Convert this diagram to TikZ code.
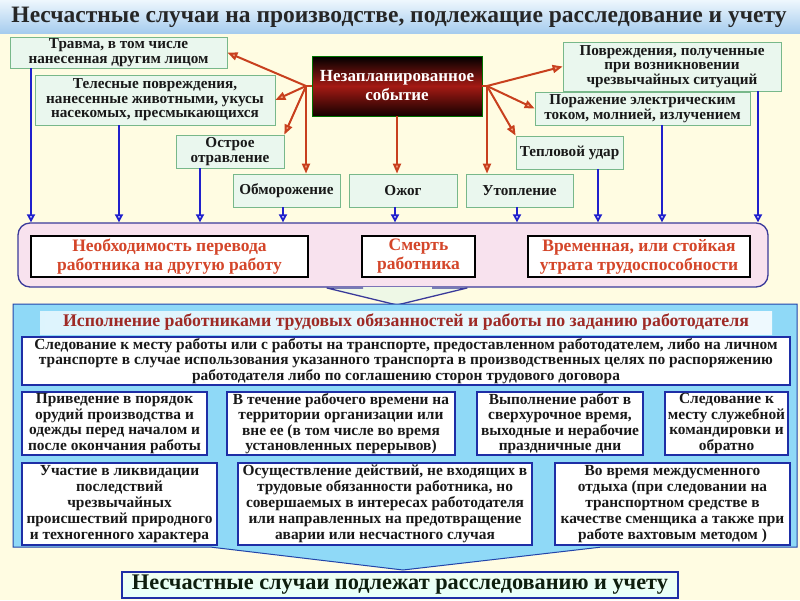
\documentclass[tikz,border=0pt]{standalone}
\usepackage{fontspec}
\setmainfont{Liberation Serif}
\usetikzlibrary{arrows.meta}
\definecolor{bgcol}{HTML}{FFFCE2}
\definecolor{titletop}{HTML}{EEF7FD}
\definecolor{titlebot}{HTML}{A6CCEE}
\definecolor{mint}{HTML}{EAF7EE}
\definecolor{mintedge}{HTML}{78B88A}
\definecolor{redln}{HTML}{C8401E}
\definecolor{redtip}{HTML}{F6A98A}
\definecolor{blueln}{HTML}{2020CC}
\definecolor{pinkfill}{HTML}{F8E2EE}
\definecolor{pinkedge}{HTML}{3A3A9A}
\definecolor{redtxt}{HTML}{D4462A}
\definecolor{skyfill}{HTML}{8FD9F7}
\definecolor{skyedge}{HTML}{2244AA}
\definecolor{boxedge}{HTML}{1E2EA6}
\definecolor{striptxt}{HTML}{9E2A26}
\definecolor{evred}{HTML}{A41A14}
\definecolor{bottxt}{HTML}{0E1E0E}
\definecolor{trifill}{HTML}{EEF8E6}
\tikzset{
  topbox/.style={draw=mintedge, fill=mint, line width=0.8pt, align=center, inner sep=0.5pt,
    text=black!90, font=\bfseries\fontsize{15.2}{14.6}\selectfont},
  redarr/.style={draw=redln, line width=2pt, -{Triangle[length=10pt,width=8pt,fill=redtip]}},
  bluearr/.style={draw=blueln, line width=1.8pt, -{Triangle[length=8pt,width=8pt,fill=blue!12]}},
  outbox/.style={draw=black, fill=white, line width=1.8pt, align=center, inner sep=0.5pt,
    text=redtxt, font=\bfseries\fontsize{17.5}{19}\selectfont},
  wbox/.style={draw=boxedge, fill=white, line width=1.8pt, align=center, inner sep=0pt,
    text=black!90, font=\bfseries\fontsize{15.4}{15.5}\selectfont},
}
\begin{document}
\begin{tikzpicture}[x=1pt,y=-1pt]
\useasboundingbox (0,0) rectangle (800,600);
\fill[bgcol] (0,0) rectangle (800,600);
\shade[top color=titletop, bottom color=titlebot] (0,0) rectangle (800,33);
\node[font=\bfseries\fontsize{23.5}{24}\selectfont, text=black!85, inner sep=0pt] (title) at (399,17)
  {Несчастные случаи на производстве, подлежащие расследование и учету};

% top boxes
\node[topbox, minimum width=217, minimum height=31] (travma) at (118.5,52.5) {Травма, в том числе\\нанесенная другим лицом};
\node[topbox, minimum width=240, minimum height=50] (teles) at (155,100) {Телесные повреждения,\\нанесенные животными, укусы\\насекомых, пресмыкающихся};
\node[topbox, minimum width=108, minimum height=33] (ostr) at (230,151.5) {Острое\\отравление};
\node[topbox, minimum width=107, minimum height=33] (obm) at (286.5,190.5) {Обморожение};
\node[topbox, minimum width=108, minimum height=33] (ozhog) at (403,190.5) {Ожог};
\node[topbox, minimum width=107, minimum height=33] (utop) at (519.5,190.5) {Утопление};
\node[topbox, minimum width=107, minimum height=33] (tepl) at (569.5,152.5) {Тепловой удар};
\node[topbox, minimum width=215, minimum height=33] (poraz) at (642.5,108.5) {Поражение электрическим\\током, молнией, излучением};
\node[topbox, minimum width=218, minimum height=49] (povr) at (672,66.5) {Повреждения, полученные\\при возникновении\\чрезвычайных ситуаций};

% event
\node[draw=green!45!black, line width=0.6pt, top color=black, bottom color=black!92!red, middle color=evred,
  minimum width=170, minimum height=60, text=white, align=center, inner sep=1pt,
  font=\bfseries\fontsize{17}{19}\selectfont] (event) at (397,86) {Незапланированное\\событие};

\coordinate (lc) at (306,86);
\coordinate (rc) at (487,86);
\draw[redln, line width=2pt] (event.west) -- (lc);
\draw[redln, line width=2pt] (event.east) -- (rc);
\draw[redarr] (lc) -- (travma.east);
\draw[redarr] (lc) -- (teles.east);
\draw[redarr] (lc) -- (ostr.north east);
\draw[redarr] (lc) -- (lc |- obm.north);
\draw[redarr] (event.south) -- (event.south |- ozhog.north);
\draw[redarr] (rc) -- (povr.west);
\draw[redarr] (rc) -- (poraz.west);
\draw[redarr] (rc) -- (tepl.north west);
\draw[redarr] (rc) -- (rc |- utop.north);

% pink consequences box
\node[draw=pinkedge, fill=pinkfill, line width=1.3pt, rounded corners=12pt,
  minimum width=750, minimum height=64] (pink) at (393,255) {};
\node[outbox, minimum width=277, minimum height=41] (perevod) at (169.5,256.5) {Необходимость перевода\\работника на другую работу};
\node[outbox, minimum width=113, minimum height=41] (smert) at (418.5,256.5) {Смерть\\работника};
\node[outbox, minimum width=222, minimum height=41] (utrata) at (639,256.5) {Временная, или стойкая\\утрата трудоспособности};

\foreach \n/\x in {travma/31, teles/119, ostr/200, obm/283, ozhog/395, utop/517, tepl/598, poraz/662, povr/758} {
  \coordinate (c\n) at (\x,0);
  \draw[bluearr] (\n.south -| c\n) -- (pink.north -| c\n);
}

% connector triangle
\fill[trifill] (327,287) -- (397,305) -- (467,287) -- cycle;
\draw[pinkedge, line width=1.3pt, line join=round] (363,288) -- (327,288) -- (397,305) -- (467,288) -- (432,288);

% cyan panel with arrow
\filldraw[fill=skyfill, draw=skyedge, line width=1pt] (13,304) -- (797,304) -- (797,547) -- (602,547)
  -- (403,570) -- (210,547) -- (13,547) -- cycle;
\node[left color=white!70!skyfill, middle color=white, right color=white!85!skyfill,
  minimum width=732, minimum height=23, inner sep=0pt, text=striptxt,
  font=\bfseries\fontsize{17.8}{18}\selectfont] (strip) at (406,322.5)
  {Исполнение работниками трудовых обязанностей и работы по заданию работодателя};

\node[wbox, minimum width=768, minimum height=48] (r1) at (406,361)
  {Следование к месту работы или с работы на транспорте, предоставленном работодателем, либо на личном\\транспорте в случае использования указанного транспорта в производственных целях по распоряжению\\работодателя либо по соглашению сторон трудового договора};
\node[wbox, minimum width=185, minimum height=63] (r2a) at (114.5,423.5)
  {Приведение в порядок\\орудий производства и\\одежды перед началом и\\после окончания работы};
\node[wbox, minimum width=228, minimum height=63] (r2b) at (341,423.5)
  {В течение рабочего времени на\\территории организации или\\вне ее (в том числе во время\\установленных перерывов)};
\node[wbox, minimum width=166, minimum height=63] (r2c) at (560,423.5)
  {Выполнение работ в\\сверхурочное время,\\выходные и нерабочие\\праздничные дни};
\node[wbox, minimum width=123, minimum height=63] (r2d) at (726.5,423.5)
  {Следование к\\месту служебной\\командировки и\\обратно};
\node[wbox, minimum width=195, minimum height=82, font=\bfseries\fontsize{15.4}{16}\selectfont] (r3a) at (119.5,504)
  {Участие в ликвидации\\последствий\\чрезвычайных\\происшествий природного\\и техногенного характера};
\node[wbox, minimum width=294, minimum height=82, font=\bfseries\fontsize{15.4}{16}\selectfont] (r3b) at (385,504)
  {Осуществление действий, не входящих в\\трудовые обязанности работника, но\\совершаемых в интересах работодателя\\или направленных на предотвращение\\аварии или несчастного случая};
\node[wbox, minimum width=235, minimum height=82, font=\bfseries\fontsize{15.4}{16}\selectfont] (r3c) at (672.5,504)
  {Во время междусменного\\отдыха (при следовании на\\транспортном средстве в\\качестве сменщика а также при\\работе вахтовым методом )};

% final box
\node[draw=boxedge, line width=1.8pt, top color=green!6, bottom color=green!18!cyan!10,
  minimum width=556, minimum height=26, inner sep=0pt, text=bottxt,
  font=\bfseries\fontsize{22.3}{23}\selectfont] (final) at (400,585)
  {Несчастные случаи подлежат расследованию и учету};
\end{tikzpicture}
\end{document}
